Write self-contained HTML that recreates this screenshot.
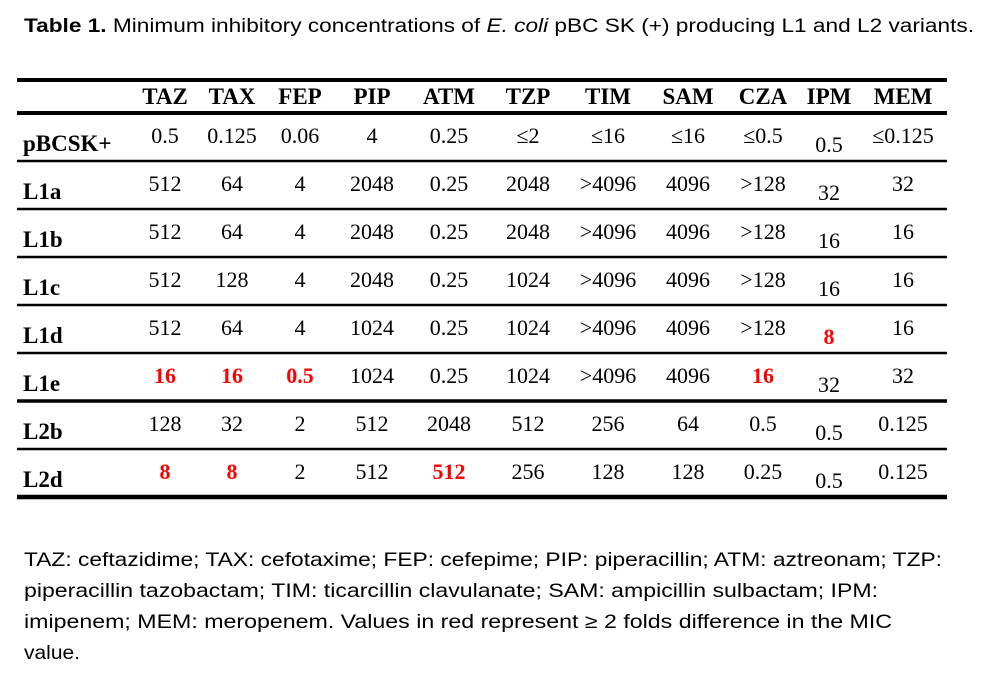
<!DOCTYPE html>
<html><head><meta charset="utf-8">
<style>
html,body{margin:0;padding:0;background:#fff;}
#wrap{width:992px;height:689px;position:relative;overflow:hidden;}
svg text{font-family:"Liberation Serif",serif;}
.sans{font-family:"Liberation Sans",sans-serif !important;}
</style></head>
<body>
<div id="wrap">
<svg id="svg" width="992" height="689" viewBox="0 0 992 689" xmlns="http://www.w3.org/2000/svg">
  <text class="sans" x="24" y="32" font-size="19" textLength="950" lengthAdjust="spacingAndGlyphs"><tspan font-weight="bold">Table 1.</tspan> Minimum inhibitory concentrations of <tspan font-style="italic">E. coli</tspan> pBC SK (+) producing L1 and L2 variants.</text>
  <text class="sans" x="24" y="566" font-size="19.5" textLength="918" lengthAdjust="spacingAndGlyphs">TAZ: ceftazidime; TAX: cefotaxime; FEP: cefepime; PIP: piperacillin; ATM: aztreonam; TZP:</text>
  <text class="sans" x="24" y="597" font-size="19.5" textLength="854" lengthAdjust="spacingAndGlyphs">piperacillin tazobactam; TIM: ticarcillin clavulanate; SAM: ampicillin sulbactam; IPM:</text>
  <text class="sans" x="24" y="628" font-size="19.5" textLength="868" lengthAdjust="spacingAndGlyphs">imipenem; MEM: meropenem. Values in red represent ≥ 2 folds difference in the MIC</text>
  <text class="sans" x="24" y="659" font-size="19.5" textLength="56" lengthAdjust="spacingAndGlyphs">value.</text>
</svg>
</div>
<script>
const columns = ["TAZ","TAX","FEP","PIP","ATM","TZP","TIM","SAM","CZA","IPM","MEM"];
const rowLabels = ["pBCSK+","L1a","L1b","L1c","L1d","L1e","L2b","L2d"];
const cellValues = [
  ["0.5","0.125","0.06","4","0.25","≤2","≤16","≤16","≤0.5","0.5","≤0.125"],
  ["512","64","4","2048","0.25","2048",">4096","4096",">128","32","32"],
  ["512","64","4","2048","0.25","2048",">4096","4096",">128","16","16"],
  ["512","128","4","2048","0.25","1024",">4096","4096",">128","16","16"],
  ["512","64","4","1024","0.25","1024",">4096","4096",">128","8","16"],
  ["16","16","0.5","1024","0.25","1024",">4096","4096","16","32","32"],
  ["128","32","2","512","2048","512","256","64","0.5","0.5","0.125"],
  ["8","8","2","512","512","256","128","128","0.25","0.5","0.125"]
];
const redCells = [[4,9],[5,0],[5,1],[5,2],[5,8],[7,0],[7,1],[7,4]];

const svg = document.getElementById('svg');
const NS = "http://www.w3.org/2000/svg";
const colX = [165,232,300,372,449,528,608,688,763,829,903];
const rowTop = 114, rowH = 48, left = 17, right = 947;

function line(y, w, name){
  const l = document.createElementNS(NS,'rect');
  l.setAttribute('x', left); l.setAttribute('y', y - w/2);
  l.setAttribute('width', right-left); l.setAttribute('height', w);
  l.setAttribute('fill', '#000');
  
  
  svg.appendChild(l);
}
function txt(x, y, s, opts, name){
  const t = document.createElementNS(NS,'text');
  t.setAttribute('x', x); t.setAttribute('y', y);
  t.setAttribute('font-size', opts.size || 22);
  if (opts.bold) t.setAttribute('font-weight','bold');
  if (opts.anchor) t.setAttribute('text-anchor', opts.anchor);
  t.setAttribute('fill', opts.fill || '#000');
  t.textContent = s;
  
  
  svg.appendChild(t);
}
line(80, 4, 'table-top-rule');
line(113, 4, 'header-rule');
for (let r = 1; r <= rowLabels.length; r++) {
  const y = rowTop + r*rowH - 1;
  const w = (r === 6) ? 3.5 : (r === rowLabels.length ? 4.5 : 2.5);
  line(y, w, r === rowLabels.length ? 'table-bottom-rule' : 'row-rule');
}
columns.forEach((c,i) => txt(colX[i], 104, c, {bold:true, anchor:'middle', size:23}, 'column-header-' + c.toLowerCase()));
rowLabels.forEach((lab, r) => {
  const bottom = rowTop + (r+1)*rowH;
  txt(23, bottom - 11, lab, {bold:true, size:23}, 'row-label-' + lab.toLowerCase().replace('+','plus'));
  cellValues[r].forEach((v, c) => {
    const red = redCells.some(p => p[0]===r && p[1]===c);
    const y = (c === 9) ? bottom - 10 : bottom - 19;
    txt(colX[c], y, v, {anchor:'middle', bold:red, fill: red ? '#ff0000' : '#000', size:22}, 'cell-' + lab.toLowerCase().replace('+','plus') + '-' + columns[c].toLowerCase());
  });
});
</script>
</body></html>
